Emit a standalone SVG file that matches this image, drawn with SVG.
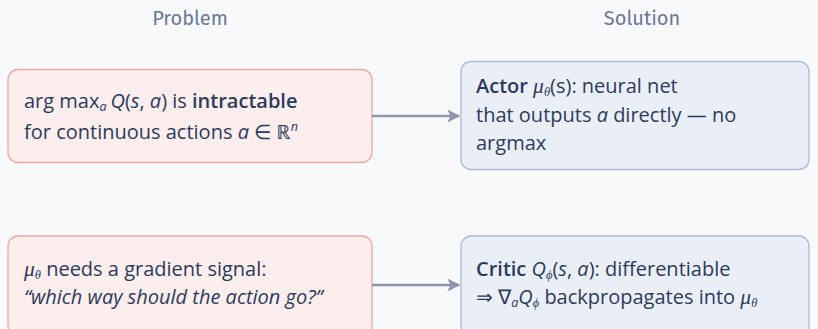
<svg xmlns="http://www.w3.org/2000/svg" width="818" height="329" viewBox="0 0 818 329">
  <defs>
    <marker id="arrowhead" viewBox="0 0 10 10" refX="9" refY="5" markerWidth="15" markerHeight="13" markerUnits="userSpaceOnUse" orient="auto">
      <path d="M0,0 L10,5 L0,10 L2.5,5 Z" fill="#8c94b0"/>
    </marker>
    <style>
      .bg { fill: #f8f9fa; }
      .head { font-family: "Fira Sans", "Open Sans", "Noto Sans", sans-serif; font-size: 20px; fill: #6a7797; text-anchor: middle; }
      .prob { fill: #fbeeec; stroke: #e8a89f; stroke-width: 1.3; }
      .sol { fill: #eaeff7; stroke: #aabcd7; stroke-width: 1.3; }
      .t { font-family: "Open Sans", "Noto Sans", sans-serif; font-size: 20px; fill: #2e3a5c; }
      .b { font-weight: 600; }
      .i { font-style: italic; }
      .m { font-family: "Liberation Serif", "DejaVu Serif", serif; font-style: italic; font-size: 21.5px; }
      .sub { font-size: 12.5px; }
      .conn { stroke: #8c94b0; stroke-width: 2.6; fill: none; }
    </style>
  </defs>

  <rect class="bg" x="0" y="0" width="818" height="329"/>

  <text class="head" x="190" y="25">Problem</text>
  <text class="head" x="642" y="25">Solution</text>

  <!-- problem: argmax over continuous actions -->
  <g id="problem-argmax">
    <rect class="prob" x="8" y="69.5" width="364" height="93" rx="10"/>
    <text class="t" x="24" y="108"><tspan font-weight="500">arg max</tspan><tspan class="i sub" dy="3">a</tspan><tspan class="i" dy="-3" dx="4">Q</tspan>(<tspan class="i">s</tspan>, <tspan class="i">a</tspan>) is <tspan class="b">intractable</tspan></text>
    <text class="t" x="24" y="139">for continuous actions <tspan class="i">a</tspan> ∈ ℝ<tspan class="i sub" dy="-8">n</tspan></text>
  </g>

  <!-- solution: actor network -->
  <g id="solution-actor">
    <rect class="sol" x="461" y="61.5" width="348" height="108" rx="10"/>
    <text class="t" x="476" y="93"><tspan class="b">Actor</tspan> <tspan class="m">μ</tspan><tspan class="m sub" dy="3">θ</tspan><tspan dy="-3">(s):  neural net</tspan></text>
    <text class="t" x="476" y="122">that outputs <tspan class="i">a</tspan> directly — no</text>
    <text class="t" x="476" y="150">argmax</text>
  </g>

  <!-- problem: gradient signal -->
  <g id="problem-gradient">
    <rect class="prob" x="8" y="236" width="364" height="100" rx="10"/>
    <text class="t" x="24" y="276"><tspan class="m">μ</tspan><tspan class="m sub" dy="3">θ</tspan><tspan dy="-3"> needs a gradient signal:</tspan></text>
    <text class="t i" x="24" y="304">“which way should the action go?”</text>
  </g>

  <!-- solution: critic network -->
  <g id="solution-critic">
    <rect class="sol" x="461" y="236" width="348" height="100" rx="10"/>
    <text class="t" x="476" y="276"><tspan class="b">Critic</tspan> <tspan class="i">Q</tspan><tspan class="m sub" dy="3">ϕ</tspan><tspan dy="-3">(</tspan><tspan class="i">s</tspan>, <tspan class="i">a</tspan>):  differentiable</text>
    <text class="t" x="476" y="304">⇒ ∇<tspan class="i sub" dy="3">a</tspan><tspan class="i" dy="-3">Q</tspan><tspan class="m sub" dy="3">ϕ</tspan><tspan dy="-3"> backpropagates into </tspan><tspan class="m">μ</tspan><tspan class="m sub" dy="3">θ</tspan></text>
  </g>

  <g id="connectors">
    <line class="conn" x1="372" y1="116" x2="459" y2="116" marker-end="url(#arrowhead)"/>
    <line class="conn" x1="372" y1="285" x2="459" y2="285" marker-end="url(#arrowhead)"/>
  </g>
</svg>
